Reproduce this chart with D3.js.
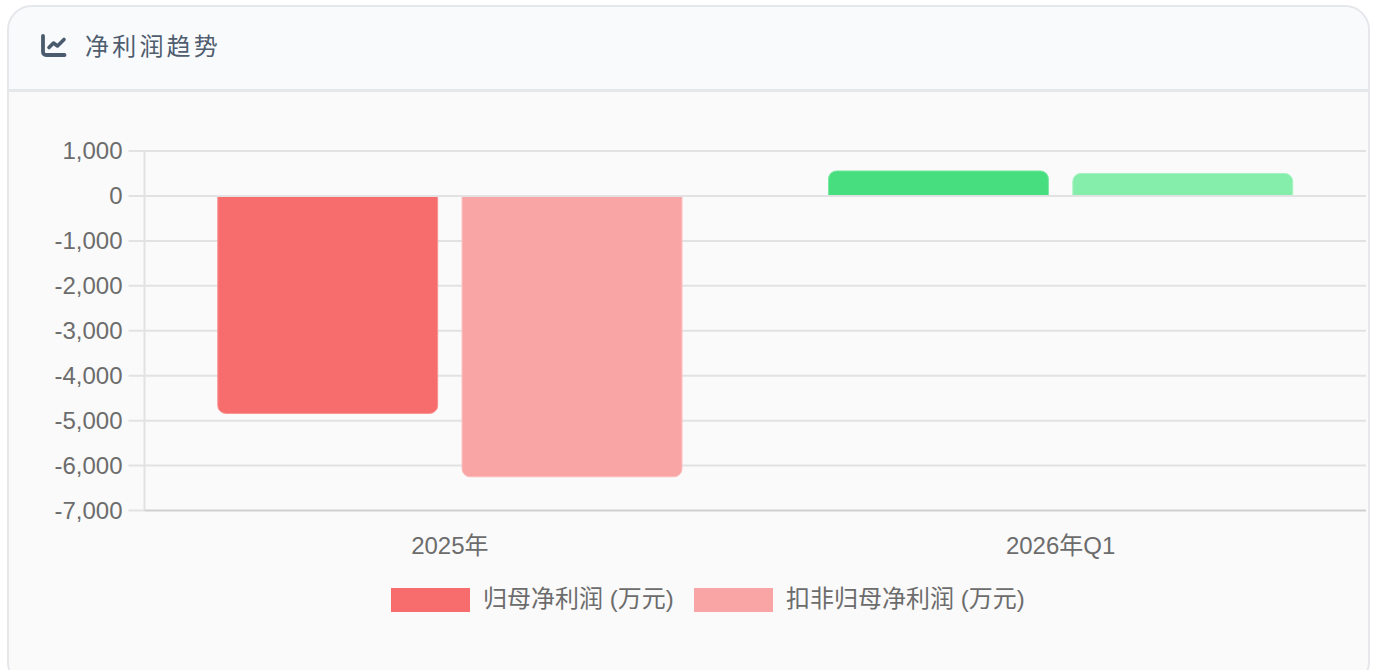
<!DOCTYPE html>
<html>
<head>
<meta charset="utf-8">
<script src="https://cdn.jsdelivr.net/npm/d3@7"></script>
<style>
  html, body { margin: 0; padding: 0; background: #fff; overflow: hidden; }
  text { font-family: "Liberation Sans", "Noto Sans CJK SC", sans-serif; }
</style>
</head>
<body>
<script>
// data
var categories = ["2025年", "2026年Q1"];
var seriesNames = ["归母净利润 (万元)", "扣非归母净利润 (万元)"];
var netProfit = [-4840, 556];
var netProfitExcl = [-6250, 500];
var yTicks = [1000, 0, -1000, -2000, -3000, -4000, -5000, -6000, -7000];

// colours, negative bars are red and positive ones green
var negColors = ["#f76d6d", "#faa5a5"];
var posColors = ["#47de7f", "#84eeaa"];
var negEdges = ["#fa9090", "#fcbcbc"];
var posEdges = ["#78e8a0", "#a4f3c0"];
var textColor = "#6c6c6c";

var svg = d3.select("body").append("svg").attr("width", 1375).attr("height", 670);

// card and header
svg.append("rect").attr("x", 8).attr("y", 6).attr("width", 1361).attr("height", 680).attr("rx", 24)
    .attr("fill", "#fafafa").attr("stroke", "#e5e7eb").attr("stroke-width", 2);
svg.append("path")
    .attr("d", "M9 90V31a24 24 0 0 1 24-24H1344a24 24 0 0 1 24 24V90Z")
    .attr("fill", "#f8fafc");
svg.append("line").attr("x1", 9).attr("x2", 1368).attr("y1", 90.5).attr("y2", 90.5)
    .attr("stroke", "#e5e7eb").attr("stroke-width", 3);

// line chart icon
svg.append("path").attr("d", "M43 36V52a3 3 0 0 0 3 3H64.500").attr("fill", "none")
    .attr("stroke", "#4b5b6e").attr("stroke-width", 3.8).attr("stroke-linecap", "round");
svg.append("path").attr("d", "M49 47.500L53.500 43L57.500 46L64 39.500").attr("fill", "none")
    .attr("stroke", "#4b5b6e").attr("stroke-width", 3.6).attr("stroke-linecap", "round").attr("stroke-linejoin", "round");
svg.append("text").attr("x", 85).attr("y", 55).text("净利润趋势")
    .attr("font-size", 24).attr("letter-spacing", 3.2).attr("fill", "#4f5d6e");

// scales
var plotLeft = 144.5, plotRight = 1366, plotTop = 151, plotBottom = 510.5;
var x0 = d3.scaleBand().domain(categories).range([plotLeft, plotRight]);
var bw = x0.bandwidth();
var x1 = d3.scaleBand().domain(seriesNames).range([bw * 0.1, bw * 0.9]).paddingInner(0.1).paddingOuter(0.05);
var y = d3.scaleLinear().domain([-7000, 1000]).range([plotBottom, plotTop]);

// grid and axes
svg.append("g").selectAll("line").data(yTicks.filter(function(d){ return d !== -7000; })).join("line")
    .attr("x1", plotLeft - 16).attr("x2", plotRight)
    .attr("y1", function(d){ return y(d); }).attr("y2", function(d){ return y(d); })
    .attr("stroke", "#e2e2e2").attr("stroke-width", 2);
svg.append("line").attr("x1", plotLeft - 16).attr("x2", plotLeft).attr("y1", plotBottom).attr("y2", plotBottom)
    .attr("stroke", "#e2e2e2").attr("stroke-width", 2);
svg.append("line").attr("x1", plotLeft).attr("x2", plotLeft).attr("y1", plotTop).attr("y2", plotBottom)
    .attr("stroke", "#e2e2e2").attr("stroke-width", 2);
svg.append("line").attr("x1", plotLeft).attr("x2", plotRight).attr("y1", plotBottom).attr("y2", plotBottom)
    .attr("stroke", "#cfcfcf").attr("stroke-width", 2);

// d3.format writes a real minus sign, the picture has a plain hyphen
var tickFormat = function(d){ return d3.format(",")(d).replace("\u2212", "-"); };

svg.append("g").selectAll("text").data(yTicks).join("text")
    .attr("x", plotLeft - 22).attr("y", function(d){ return y(d); }).attr("dy", 8)
    .attr("text-anchor", "end").attr("font-size", 24).attr("fill", textColor)
    .text(tickFormat);

svg.append("g").selectAll("text").data(categories).join("text")
    .attr("x", function(d){ return x0(d) + bw / 2; }).attr("y", 554)
    .attr("text-anchor", "middle").attr("font-size", 24).attr("fill", textColor)
    .text(function(d){ return d; });

// bars, only the end away from zero is rounded
function barPath(x, w, y0, y1, r) {
    var s = y1 < y0 ? 1 : -1;
    var sweep = y1 < y0 ? 1 : 0;
    return "M" + x + " " + y0 + "V" + (y1 + s * r)
        + "A" + r + " " + r + " 0 0 " + sweep + " " + (x + r) + " " + y1
        + "H" + (x + w - r)
        + "A" + r + " " + r + " 0 0 " + sweep + " " + (x + w) + " " + (y1 + s * r)
        + "V" + y0 + "Z";
}

var seriesValues = [netProfit, netProfitExcl];
seriesValues.forEach(function(values, s) {
    svg.append("g").selectAll("path").data(values).join("path")
        .attr("d", function(d, i) {
            var bx = x0(categories[i]) + x1(seriesNames[s]);
            return barPath(bx, x1.bandwidth(), y(0), y(d), 8);
        })
        .attr("fill", function(d){ return d < 0 ? negColors[s] : posColors[s]; })
        .attr("stroke", function(d){ return d < 0 ? negEdges[s] : posEdges[s]; })
        .attr("stroke-width", 1);
});

// the zero line sits on top of the bars
svg.append("line").attr("x1", plotLeft).attr("x2", plotRight).attr("y1", y(0)).attr("y2", y(0))
    .attr("stroke", "#e2e2e2").attr("stroke-width", 2);

// legend
var legendX = [391, 694];
seriesNames.forEach(function(name, i) {
    svg.append("rect").attr("x", legendX[i]).attr("y", 588).attr("width", 79).attr("height", 24)
        .attr("fill", negColors[i]);
    svg.append("text").attr("x", legendX[i] + 92).attr("y", 607)
        .attr("font-size", 24).attr("fill", textColor).text(name);
});
</script>
</body>
</html>
